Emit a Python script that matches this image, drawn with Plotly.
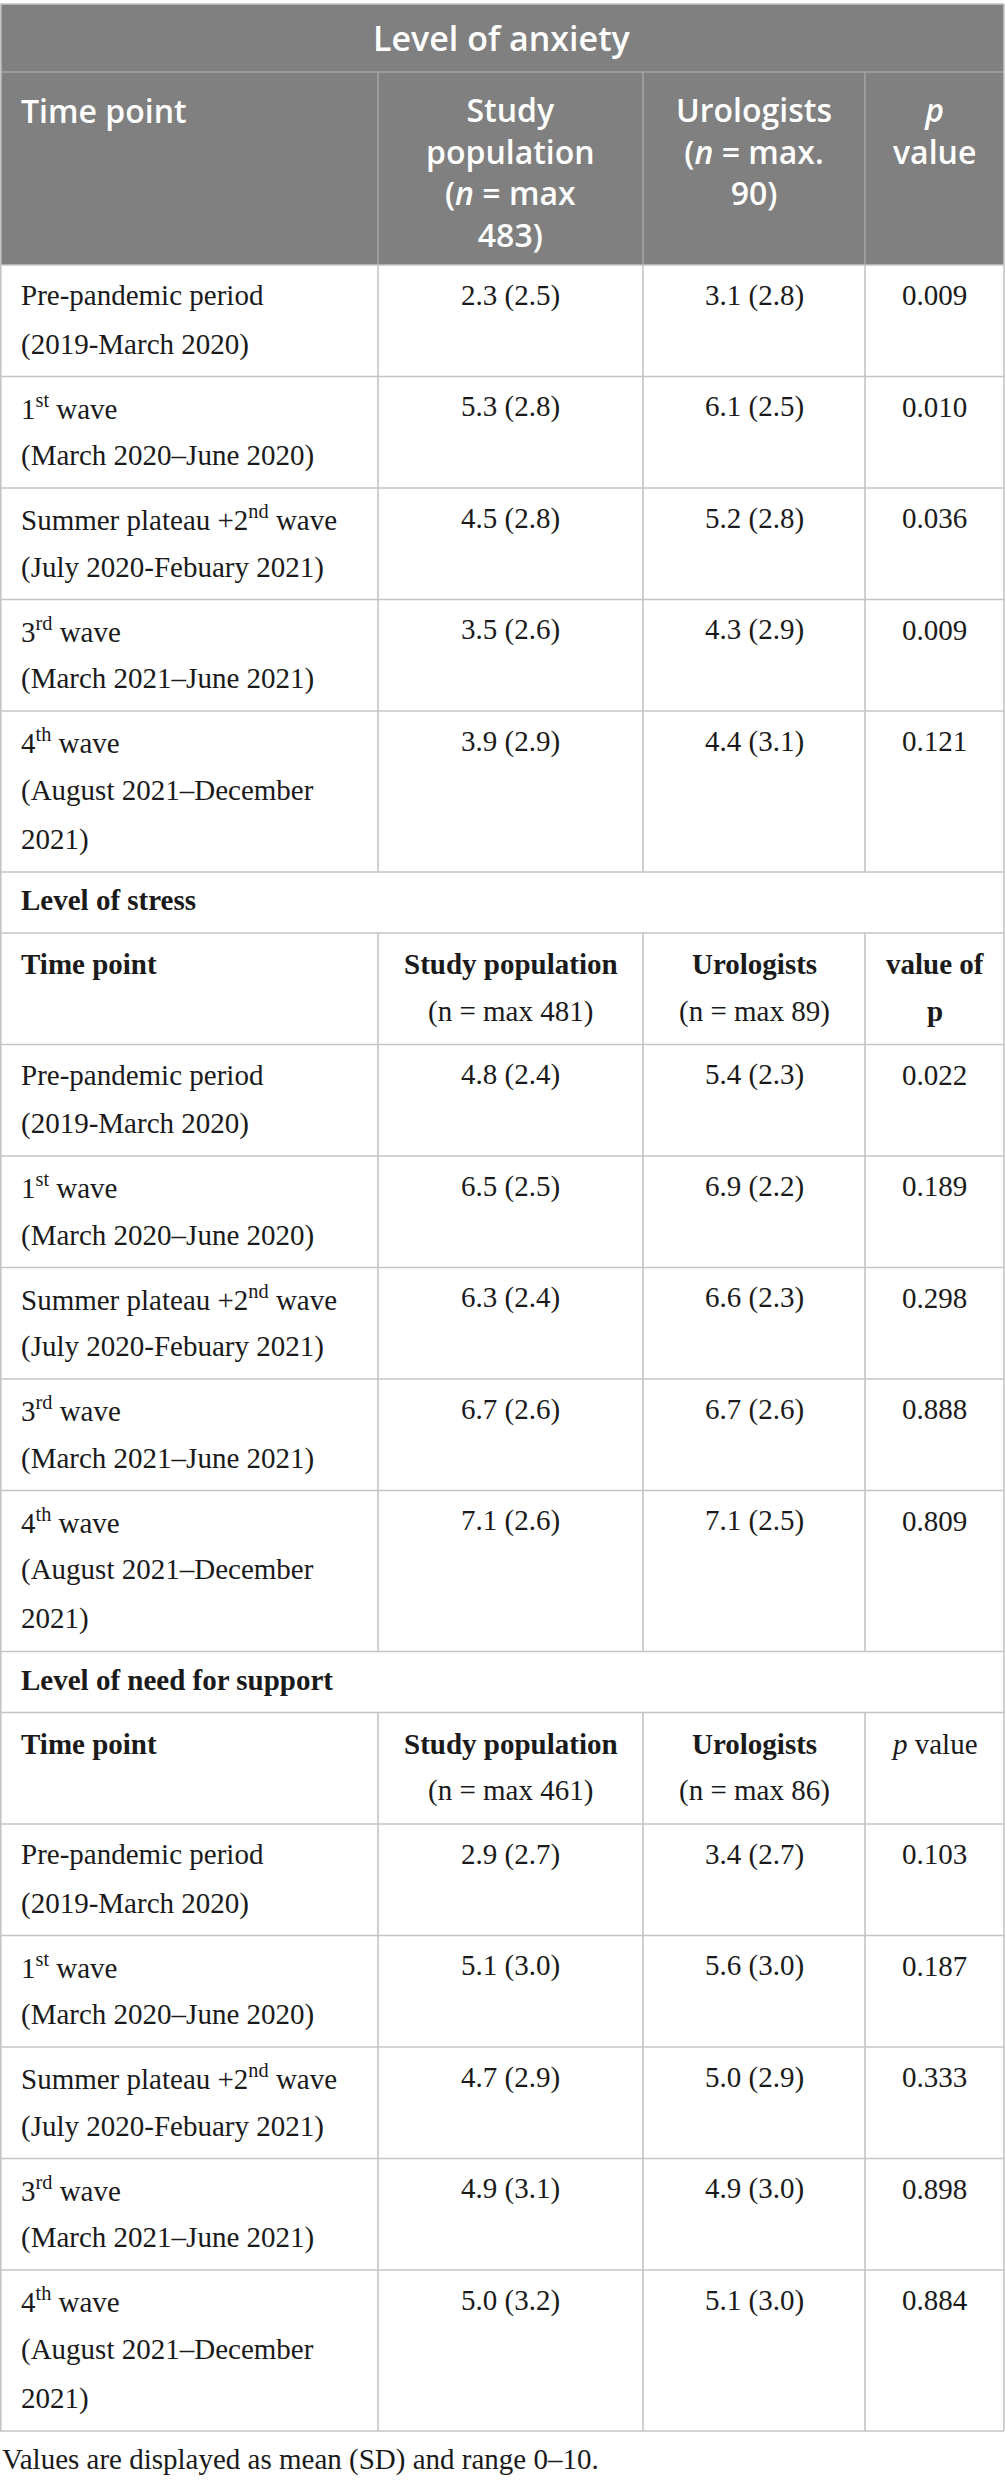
import plotly.graph_objects as go

# table content
time_points = [
    "Pre-pandemic period<br>(2019-March 2020)",
    "1<sup>st</sup> wave<br>(March 2020–June 2020)",
    "Summer plateau +2<sup>nd</sup> wave<br>(July 2020-Febuary 2021)",
    "3<sup>rd</sup> wave<br>(March 2021–June 2021)",
    "4<sup>th</sup> wave<br>(August 2021–December<br>2021)",
]

anxiety_study = ["2.3 (2.5)", "5.3 (2.8)", "4.5 (2.8)", "3.5 (2.6)", "3.9 (2.9)"]
anxiety_uro = ["3.1 (2.8)", "6.1 (2.5)", "5.2 (2.8)", "4.3 (2.9)", "4.4 (3.1)"]
anxiety_p = ["0.009", "0.010", "0.036", "0.009", "0.121"]

stress_study = ["4.8 (2.4)", "6.5 (2.5)", "6.3 (2.4)", "6.7 (2.6)", "7.1 (2.6)"]
stress_uro = ["5.4 (2.3)", "6.9 (2.2)", "6.6 (2.3)", "6.7 (2.6)", "7.1 (2.5)"]
stress_p = ["0.022", "0.189", "0.298", "0.888", "0.809"]

support_study = ["2.9 (2.7)", "5.1 (3.0)", "4.7 (2.9)", "4.9 (3.1)", "5.0 (3.2)"]
support_uro = ["3.4 (2.7)", "5.6 (3.0)", "5.0 (2.9)", "4.9 (3.0)", "5.1 (3.0)"]
support_p = ["0.103", "0.187", "0.333", "0.898", "0.884"]

anxiety_header = ["Time point", "Study<br>population<br>(<i>n</i> = max<br>483)",
                  "Urologists<br>(<i>n</i> = max.<br>90)", "<i>p</i><br>value"]
stress_header = ["<b>Time point</b>", "<b>Study population</b><br>(n = max 481)",
                 "<b>Urologists</b><br>(n = max 89)", "<b>value of</b><br><b>p</b>"]
support_header = ["<b>Time point</b>", "<b>Study population</b><br>(n = max 461)",
                  "<b>Urologists</b><br>(n = max 86)", "<i>p</i> value"]

title = "Level of anxiety"
stress_label = "Level of stress"
support_label = "Level of need for support"
footnote = "Values are displayed as mean (SD) and range 0–10."

# layout constants
W, H = 1005, 2484
cols = [0, 378, 643, 865, 1004]
GRAY = "#7f807f"
GRID = "#c4c4c4"
GRID_DARK = "#a3a3a3"
INK = "#1a1a1a"
SERIF = "Liberation Serif"
SANS = "Open Sans"
FS = 29
HS = 32  # header sans size, plotly line step 1.3*32 ~ 41px

shapes = []
annotations = []


def hline(y, color=GRID):
    shapes.append(dict(type="line", xref="x", yref="y", x0=0, x1=cols[-1], y0=y, y1=y,
                       line=dict(color=color, width=1.6)))


def vlines(y0, y1, color=GRID):
    for x in cols[1:-1]:
        shapes.append(dict(type="line", xref="x", yref="y", x0=x, x1=x, y0=y0, y1=y1,
                           line=dict(color=color, width=1.6)))


def col_x(col):
    if col == 0:
        return cols[0] + 19, "left"
    return (cols[col] + cols[col + 1]) / 2, "center"


def cell_text(col, top, s, first=30, step=49, size=FS, family=SERIF, color=INK):
    x, anchor = col_x(col)
    for i, ln in enumerate(s.split("<br>")):
        annotations.append(dict(x=x, y=top + first + i * step, xref="x", yref="y", text=ln,
                                showarrow=False, xanchor=anchor, yanchor="middle",
                                font=dict(family=family, size=size, color=color)))


y = 4
# title row
shapes.append(dict(type="rect", xref="x", yref="y", x0=0, x1=cols[-1], y0=y, y1=y + 68,
                   fillcolor=GRAY, line=dict(width=0), layer="below"))
annotations.append(dict(x=cols[-1] / 2, y=y + 34, xref="x", yref="y", text=title, showarrow=False,
                        xanchor="center", yanchor="middle",
                        font=dict(family=SANS, size=34, color="white", weight=600)))
hline(y)
y += 68
# anxiety header row
shapes.append(dict(type="rect", xref="x", yref="y", x0=0, x1=cols[-1], y0=y, y1=y + 193,
                   fillcolor=GRAY, line=dict(width=0), layer="below"))
hline(y, GRID_DARK)
vlines(y, y + 193, GRID_DARK)
for c, s in enumerate(anxiety_header):
    n = len(s.split("<br>"))
    x, anchor = col_x(c)
    annotations.append(dict(x=x, y=y + 38 + (n - 1) * 41 / 2, xref="x", yref="y", text=s,
                            showarrow=False, xanchor=anchor, yanchor="middle", align=anchor,
                            font=dict(family=SANS, size=HS, color="white", weight=600)))
y += 193


def data_block(y, study, uro, pv):
    for i in range(len(time_points)):
        nlines = len(time_points[i].split("<br>"))
        h = 111.5 if nlines == 2 else 161
        hline(y)
        vlines(y, y + h)
        cell_text(0, y, time_points[i])
        cell_text(1, y, study[i])
        cell_text(2, y, uro[i])
        cell_text(3, y, pv[i])
        y += h
    return y


def label_block(y, label, header):
    hline(y)
    cell_text(0, y, "<b>" + label + "</b>", first=28)
    y += 61
    hline(y)
    vlines(y, y + 111.5)
    for c, s in enumerate(header):
        cell_text(c, y, s, first=31, step=47)
    return y + 111.5


y = data_block(y, anxiety_study, anxiety_uro, anxiety_p)
y = label_block(y, stress_label, stress_header)
y = data_block(y, stress_study, stress_uro, stress_p)
y = label_block(y, support_label, support_header)
y = data_block(y, support_study, support_uro, support_p)
hline(y)
bottom = y

# outer border
for x in (0.8, cols[-1]):
    shapes.append(dict(type="line", xref="x", yref="y", x0=x, x1=x, y0=4, y1=bottom,
                       line=dict(color=GRID, width=1.6)))

annotations.append(dict(x=0, y=bottom + 28, xref="x", yref="y", text=footnote, showarrow=False,
                        xanchor="left", yanchor="middle",
                        font=dict(family=SERIF, size=FS, color=INK)))

fig = go.Figure()
fig.update_layout(
    width=W, height=H,
    margin=dict(l=0, r=0, t=0, b=0),
    paper_bgcolor="white", plot_bgcolor="white",
    xaxis=dict(range=[0, W], visible=False, fixedrange=True),
    yaxis=dict(range=[H, 0], visible=False, fixedrange=True),
    shapes=shapes, annotations=annotations, showlegend=False,
)
# drop the default 8px page margin so the figure sits at the window origin
fig.write_html("out.html", config={"displayModeBar": False},
               post_script="document.body.style.margin='0px';")
